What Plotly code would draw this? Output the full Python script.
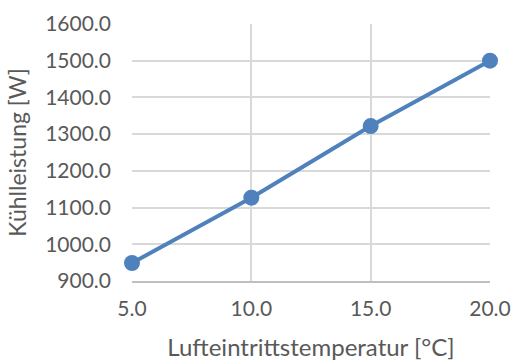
import plotly.graph_objects as go

# Cooling capacity vs. air inlet temperature
temperatur = [5.0, 10.0, 15.0, 20.0]
kuehlleistung = [949, 1127, 1322, 1500]
x_ticks = [5, 10, 15, 20]
y_ticks = [900, 1000, 1100, 1200, 1300, 1400, 1500, 1600]

blue = "#4f81bd"
grid = "#d9d9d9"
text_col = "#595959"
font = "Lato"

fig = go.Figure(
    go.Scatter(
        x=temperatur,
        y=kuehlleistung,
        mode="lines+markers",
        line=dict(color=blue, width=4),
        marker=dict(color=blue, size=16),
        cliponaxis=False,
        showlegend=False,
    )
)

fig.update_layout(
    width=516,
    height=364,
    margin=dict(l=132, r=26, t=24, b=83),
    paper_bgcolor="white",
    plot_bgcolor="white",
    font=dict(family=font, color=text_col, size=21),
)

fig.update_xaxes(
    range=[5, 20],
    tickvals=x_ticks,
    ticktext=[f"{v:.1f}" for v in x_ticks],
    showgrid=True,
    gridcolor=grid,
    gridwidth=1.5,
    zeroline=False,
    showline=True,
    linecolor="#bfbfbf",
    linewidth=1.5,
    ticks="",
    ticklabelstandoff=8,
    automargin=False,
    title=dict(text="Lufteintrittstemperatur [°C]", font=dict(size=24, color=text_col), standoff=20),
)

fig.update_yaxes(
    range=[900, 1600],
    tickvals=y_ticks,
    ticktext=[f"{v:.1f}" for v in y_ticks],
    showgrid=True,
    gridcolor=grid,
    gridwidth=1.5,
    zeroline=False,
    showline=False,
    ticks="",
    ticklabelstandoff=20,
    automargin=False,
    title=dict(text="Kühlleistung [W]", font=dict(size=23, color=text_col), standoff=12),
)

fig.write_html("out.html")
